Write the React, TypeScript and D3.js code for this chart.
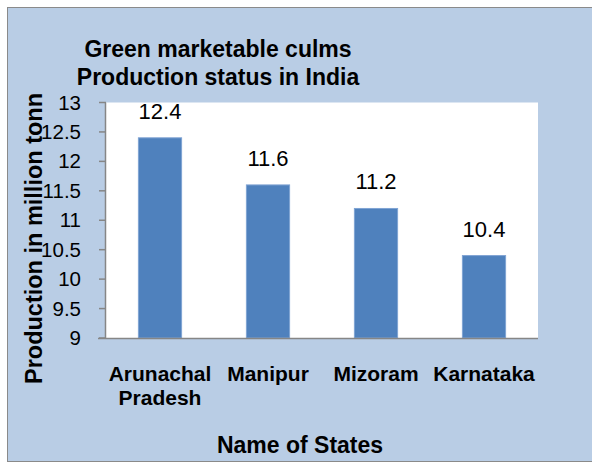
import React from 'react';
import * as d3 from 'd3';

const states = [['Arunachal', 'Pradesh'], ['Manipur'], ['Mizoram'], ['Karnataka']];
const production = [12.4, 11.6, 11.2, 10.4];
const yTicks = [9, 9.5, 10, 10.5, 11, 11.5, 12, 12.5, 13];
const titleLines = ['Green marketable culms', 'Production status in India'];

const W = 592;
const H = 462;
const plot = { left: 106, right: 538, top: 102.5, bottom: 338 };
const font = 'Liberation Sans, Arial, sans-serif';

export default function App() {
  const keys = states.map(s => s.join(' '));
  const x = d3.scaleBand()
    .domain(keys)
    .range([plot.left, plot.right])
    .paddingInner(0.6)
    .paddingOuter(0.3);
  const y = d3.scaleLinear()
    .domain([9, 13])
    .range([plot.bottom, plot.top]);

  return (
    <svg
      width={W}
      height={H}
      style={{ position: 'absolute', left: 0, top: 0, background: '#fff' }}
      fontFamily={font}
    >
      <rect x={7.5} y={7.5} width={W} height={454} fill="#B9CDE5" stroke="#8a8a8a" />
      <rect x={plot.left} y={plot.top} width={plot.right - plot.left} height={plot.bottom - plot.top} fill="#fff" />

      {titleLines.map((t, i) => (
        <text key={t} x={218} y={57 + i * 28} textAnchor="middle" fontSize={23} fontWeight="bold">{t}</text>
      ))}

      {production.map((v, i) => {
        const bx = x(keys[i]) as number;
        return (
          <g key={keys[i]}>
            <rect
              x={bx}
              y={y(v)}
              width={x.bandwidth()}
              height={plot.bottom - y(v)}
              fill="#4F81BD"
              stroke="#7FA3D3"
              strokeWidth={1}
            />
            <text x={bx + x.bandwidth() / 2} y={y(v) - 19} textAnchor="middle" fontSize={22}>{v}</text>
          </g>
        );
      })}

      <line x1={plot.left - 0.5} x2={plot.left - 0.5} y1={plot.top} y2={plot.bottom} stroke="#868686" strokeWidth={1.5} />
      <line x1={98} x2={plot.right} y1={plot.bottom + 0.5} y2={plot.bottom + 0.5} stroke="#868686" strokeWidth={1.5} />
      {yTicks.map(t => (
        <g key={t}>
          <line x1={99} x2={plot.left} y1={y(t)} y2={y(t)} stroke="#868686" strokeWidth={1.5} />
          <text x={81} y={y(t) + 7} textAnchor="end" fontSize={20.5}>{t}</text>
        </g>
      ))}

      {states.map((lines, i) => (
        <text key={keys[i]} textAnchor="middle" fontSize={21} fontWeight="bold">
          {lines.map((l, j) => (
            <tspan key={l} x={(x(keys[i]) as number) + x.bandwidth() / 2} y={381 + j * 24}>{l}</tspan>
          ))}
        </text>
      ))}

      <text x={300} y={453} textAnchor="middle" fontSize={23} fontWeight="bold">Name of States</text>
      <text
        transform="translate(42,238.5) rotate(-90)"
        textAnchor="middle"
        fontSize={23.5}
        fontWeight="bold"
      >
        Production in million tonn
      </text>
    </svg>
  );
}
